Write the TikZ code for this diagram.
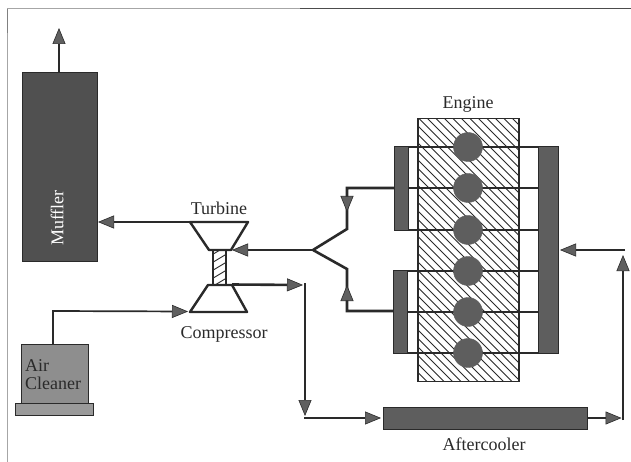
\documentclass[tikz,border=0pt]{standalone}
\usepackage{fontspec}
\setmainfont{Liberation Serif}
\usetikzlibrary{arrows.meta}
\definecolor{darkfill}{HTML}{505050}
\definecolor{midfill}{HTML}{5E5E5E}
\definecolor{cleanfill}{HTML}{8E8E8E}
\definecolor{basefill}{HTML}{9A9A9A}
\definecolor{tipfill}{HTML}{606060}
\definecolor{inkline}{HTML}{2A2A2A}
\tikzset{
  x=1pt,y=-1pt,
  unit/.style={draw=inkline,line width=0.8pt,inner sep=0pt,outer sep=0pt,anchor=north west},
  label/.style={font=\fontsize{18}{18}\selectfont,text=inkline,inner sep=0pt},
  pipe/.style={draw=inkline,line width=2.6pt},
  thin pipe/.style={draw=inkline,line width=1.7pt},
  flow/.style={pipe,-{Triangle[length=16pt,width=13pt,fill=tipfill,color=inkline,line width=0.6pt]}},
  thin flow/.style={thin pipe,-{Triangle[length=16pt,width=13pt,fill=tipfill,color=inkline,line width=0.6pt]}},
  cyl/.style={circle,fill=midfill,draw=midfill,minimum size=29pt,inner sep=0pt,outer sep=0pt},
  hatchline/.style={draw=inkline,line width=0.8pt},
  machine/.style={draw=inkline,line width=2.4pt,line join=round}
}
\begin{document}
\begin{tikzpicture}
\useasboundingbox (0,0) rectangle (631,462);
\fill[white] (0,0) rectangle (631,462);
% page frame
\draw[draw=black!35,line width=1pt] (7,462) -- (7,9) -- (300,9);
\draw[draw=black!70,line width=1pt] (300,8.5) -- (631,8.5);
\draw[draw=black!50,line width=1pt] (7,9) -- (7,33);

% units
\node[unit,fill=darkfill,minimum width=75pt,minimum height=189pt] (muffler) at (22,72) {};
\node[label,text=white,rotate=90] (mufflerlabel) at (57,218) {Muffler};
\node[unit,fill=basefill,minimum width=78pt,minimum height=12pt] (cleanerbase) at (15,403) {};
\node[unit,fill=cleanfill,minimum width=67pt,minimum height=59pt] (cleaner) at (21,344) {};
\node[label,anchor=west] (airlabel) at (25,366) {Air};
\node[label,anchor=west] (cleanerlabel) at (25,383.5) {Cleaner};
\node[unit,fill=midfill,minimum width=204pt,minimum height=22pt] (aftercooler) at (383,407) {};
\node[label] (afterlabel) at (484,444) {Aftercooler};
\node[label] (enginelabel) at (468,104) {Engine};
\node[label] (turbinelabel) at (219,208) {Turbine};
\node[label] (compressorlabel) at (224,334) {Compressor};

% engine block with hatching
\node[unit,line width=1.6pt,minimum width=101pt,minimum height=263pt] (engine) at (418,118.5) {};
\begin{scope}
\clip (418,118.5) rectangle (519,381.5);
\foreach \k in {0,...,50} {
  \draw[hatchline] (138+\k*8.5,118) -- (408+\k*8.5,388);
}
\end{scope}
\draw[draw=inkline,line width=1.8pt] (engine.north west) rectangle (engine.south east);

% cylinder rows
\foreach \n/\yy in {1/147,2/188,3/230,4/271,5/312,6/353} {
  \coordinate (rowL\n) at (394,\yy);
  \coordinate (rowR\n) at (558,\yy);
  \draw[draw=inkline,line width=1.8pt] (rowL\n) -- (rowR\n);
  \node[cyl] (cyl\n) at (468,\yy) {};
}

% manifolds
\node[unit,fill=midfill,minimum width=14pt,minimum height=84pt] (exhaustA) at (394,146) {};
\node[unit,fill=midfill,minimum width=14pt,minimum height=83pt] (exhaustB) at (393,270) {};
\node[unit,fill=midfill,minimum width=20pt,minimum height=207pt] (intake) at (538,146) {};

% turbocharger
\coordinate (tTL) at (190,222);
\coordinate (tTR) at (248,222);
\coordinate (tBL) at (209,250);
\coordinate (tBR) at (231,250);
\coordinate (cTL) at (208,285);
\coordinate (cTR) at (232,285);
\coordinate (cBL) at (190,312);
\coordinate (cBR) at (247,312);
\begin{scope}
\clip (213,250) rectangle (226,285);
\foreach \k in {0,...,7} {
  \draw[hatchline,line width=0.9pt] (210,256+\k*8) -- (230,244+\k*8);
}
\end{scope}
\draw[machine] (213,250) -- (213,285) (226,250) -- (226,285);
\draw[machine] (tTL) -- (tTR) -- (tBR) -- (tBL) -- cycle;
\draw[machine] (cTR) -- (cBR) -- (cBL) -- (cTL) -- (cTR);

% routing points
\coordinate (outA) at (394,188);
\coordinate (bendA) at (347,188);
\coordinate (kneeA) at (347,229);
\coordinate (arrowA) at (347,212);
\coordinate (outB) at (393,311);
\coordinate (bendB) at (347,311);
\coordinate (kneeB) at (347,269);
\coordinate (arrowB) at (347,285);
\coordinate (fork) at (313,250);
\coordinate (turbineIn) at (232,250);
\coordinate (muffIn) at (98,222);
\coordinate (muffOut) at (59,72);
\coordinate (stackTop) at (59,28);
\coordinate (cleanerOut) at (53,344);
\coordinate (airBend) at (53,311);
\coordinate (compIn) at (188,311.5);
\coordinate (compOutStart) at (232,284.5);
\coordinate (compOutTip) at (303,285);
\coordinate (downTop) at (305,283);
\coordinate (downTip) at (305,416);
\coordinate (acStart) at (304,418);
\coordinate (acIn) at (381,418);
\coordinate (acOut) at (587,418);
\coordinate (riserFoot) at (623,420);
\coordinate (riserIn) at (621.5,418);
\coordinate (riserTip) at (623,255);
\coordinate (returnStart) at (625,250);
\coordinate (returnTip) at (560,250);

% connectors
\draw[flow] (tTL) -- (muffIn);
\draw[thin flow] (muffOut) -- (stackTop);
\draw[thin flow,line join=miter] (cleanerOut) -- (airBend) -- (compIn);
\draw[pipe,line join=miter] (outA) -- (bendA) -- (kneeA) -- (fork);
\draw[pipe,line join=miter] (outB) -- (bendB) -- (kneeB) -- (fork);
\draw[thin flow] (bendA) -- (arrowA);
\draw[thin flow] (bendB) -- (arrowB);
\draw[flow] (fork) -- (turbineIn);
\draw[flow] (compOutStart) -- (compOutTip);
\draw[flow] (downTop) -- (downTip);
\draw[flow] (acStart) -- (acIn);
\draw[flow] (acOut) -- (riserIn);
\draw[flow] (riserFoot) -- (riserTip);
\draw[flow] (returnStart) -- (returnTip);
\end{tikzpicture}
\end{document}
